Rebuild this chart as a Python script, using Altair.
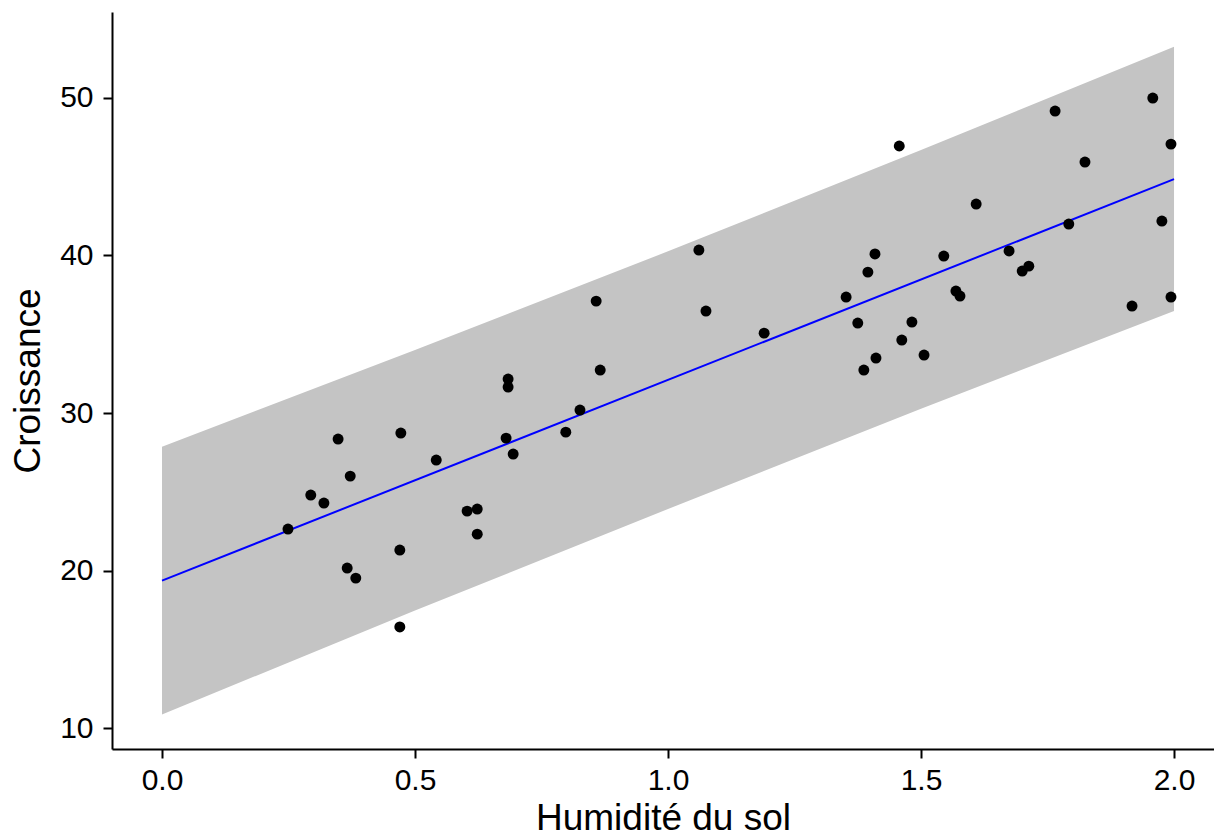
import altair as alt
import pandas as pd

humidite = [0.249, 0.294, 0.320, 0.348, 0.372, 0.366, 0.383, 0.472, 0.470, 0.470,
            0.542, 0.603, 0.623, 0.623, 0.684, 0.684, 0.680, 0.694, 0.798, 0.826,
            0.858, 0.866, 1.061, 1.075, 1.190, 1.352, 1.375, 1.387, 1.395, 1.409,
            1.411, 1.457, 1.462, 1.482, 1.506, 1.545, 1.569, 1.577, 1.609, 1.674,
            1.700, 1.713, 1.765, 1.792, 1.824, 1.917, 1.958, 1.976, 1.994, 1.994]
croissance = [22.64, 24.80, 24.29, 28.35, 26.00, 20.17, 19.53, 28.73, 21.31, 16.43,
              27.02, 23.78, 23.91, 22.32, 32.16, 31.65, 28.41, 27.40, 28.79, 30.19,
              37.10, 32.73, 40.34, 36.47, 35.07, 37.36, 35.71, 32.73, 38.94, 40.09,
              33.49, 46.94, 34.63, 35.77, 33.68, 39.96, 37.74, 37.42, 43.26, 40.28,
              39.01, 39.32, 49.16, 41.99, 45.92, 36.79, 49.98, 42.18, 47.06, 37.36]

# Prediction band and fitted line
ribbon_x = [0.0, 0.5, 1.0, 1.5, 2.0]
ribbon_lo = [10.88, 17.47, 23.92, 30.27, 36.47]
ribbon_hi = [27.86, 34.00, 40.26, 46.68, 53.23]
fit_x = [0.0, 2.0]
fit_y = [19.37, 44.84]

x_ticks = [0.0, 0.5, 1.0, 1.5, 2.0]
y_ticks = [10, 20, 30, 40, 50]

pts = pd.DataFrame({"x": humidite, "y": croissance})
band = pd.DataFrame({"x": ribbon_x, "lo": ribbon_lo, "hi": ribbon_hi})
fit = pd.DataFrame({"x": fit_x, "y": fit_y})

xscale = alt.Scale(domain=[-0.0988, 2.079], nice=False, zero=False)
yscale = alt.Scale(domain=[8.69, 55.44], nice=False, zero=False)

xaxis = alt.Axis(title="Humidité du sol", values=x_ticks, format=".1f")
yaxis = alt.Axis(title="Croissance", values=y_ticks, format="d")

X = alt.X("x:Q", scale=xscale, axis=xaxis)

ribbon = alt.Chart(band).mark_area(color="#C4C4C4", opacity=1).encode(
    x=X,
    y=alt.Y("lo:Q", scale=yscale, axis=yaxis),
    y2="hi:Q",
)

line = alt.Chart(fit).mark_line(color="#0000FF", strokeWidth=2).encode(
    x=X,
    y=alt.Y("y:Q", scale=yscale, axis=yaxis),
)

points = alt.Chart(pts).mark_circle(size=120, color="black", opacity=1).encode(
    x=X,
    y=alt.Y("y:Q", scale=yscale, axis=yaxis),
)

chart = (
    alt.layer(ribbon, line, points)
    .properties(
        width=1102,
        height=737,
        autosize=alt.AutoSizeParams(type="none"),
        padding={"left": 104, "top": 4, "right": 0, "bottom": 92},
    )
    .configure_view(stroke=None)
    .configure_axis(
        grid=False,
        domainColor="black",
        domainWidth=2,
        tickColor="black",
        tickWidth=2,
        tickSize=9,
        labelColor="black",
        labelFont="Liberation Sans",
        labelFontSize=30,
        labelFlush=False,
        titleFont="Liberation Sans",
        titleFontSize=37,
        titleFontWeight="normal",
        titleColor="black",
    )
    .configure_axisX(labelPadding=7, titlePadding=5)
    .configure_axisY(labelPadding=10, titlePadding=12)
)

chart.save("out.html", embed_options={"renderer": "svg", "actions": False})
